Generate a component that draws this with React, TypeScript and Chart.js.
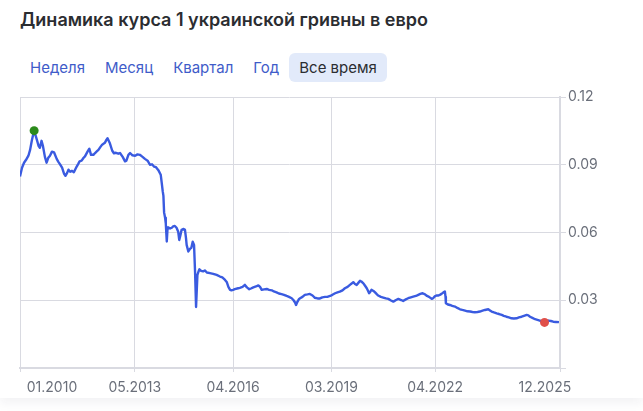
import React, { useEffect, useRef } from 'react';
import { Chart, registerables } from 'chart.js';

Chart.register(...registerables);

// Курс 1 UAH в EUR (дата в долях года)
const dates = [
  2009.92, 2009.98, 2010.04, 2010.10, 2010.17, 2010.22, 2010.27, 2010.31, 2010.34, 2010.42,
  2010.47, 2010.51, 2010.56, 2010.60, 2010.66, 2010.71, 2010.76, 2010.81, 2010.87, 2010.93,
  2011.01, 2011.06, 2011.11, 2011.17, 2011.23, 2011.27, 2011.32, 2011.36, 2011.41, 2011.46,
  2011.52, 2011.60, 2011.65, 2011.69, 2011.75, 2011.81, 2011.85, 2011.93, 2011.98, 2012.03,
  2012.10, 2012.15, 2012.20, 2012.25, 2012.30, 2012.36, 2012.44, 2012.49, 2012.52, 2012.59,
  2012.66, 2012.71, 2012.77, 2012.84, 2012.89, 2012.97, 2013.04, 2013.08, 2013.14, 2013.19,
  2013.26, 2013.34, 2013.41, 2013.48, 2013.56, 2013.63, 2013.71, 2013.78, 2013.84, 2013.90,
  2013.96, 2014.03, 2014.10, 2014.13, 2014.16, 2014.18, 2014.20, 2014.23, 2014.25, 2014.28,
  2014.30, 2014.32, 2014.38, 2014.43, 2014.47, 2014.52, 2014.57, 2014.62, 2014.65, 2014.68,
  2014.72, 2014.78, 2014.82, 2014.85, 2014.87, 2014.92, 2014.97, 2015.01, 2015.05, 2015.09,
  2015.12, 2015.15, 2015.19, 2015.22, 2015.25, 2015.30, 2015.36, 2015.41, 2015.47, 2015.56,
  2015.66, 2015.76, 2015.86, 2015.93, 2016.01, 2016.06, 2016.11, 2016.16, 2016.20, 2016.25,
  2016.30, 2016.40, 2016.45, 2016.53, 2016.60, 2016.66, 2016.73, 2016.78, 2016.85, 2016.93,
  2017.00, 2017.05, 2017.10, 2017.17, 2017.25, 2017.32, 2017.40, 2017.46, 2017.54, 2017.61,
  2017.69, 2017.76, 2017.84, 2017.91, 2017.99, 2018.04, 2018.09, 2018.12, 2018.16, 2018.21,
  2018.24, 2018.31, 2018.38, 2018.46, 2018.53, 2018.61, 2018.68, 2018.76, 2018.83, 2018.90,
  2018.98, 2019.05, 2019.13, 2019.20, 2019.28, 2019.35, 2019.42, 2019.50, 2019.57, 2019.65,
  2019.72, 2019.78, 2019.82, 2019.87, 2019.92, 2019.97, 2020.02, 2020.06, 2020.12, 2020.17,
  2020.22, 2020.26, 2020.29, 2020.33, 2020.36, 2020.42, 2020.46, 2020.51, 2020.56, 2020.64,
  2020.71, 2020.79, 2020.86, 2020.94, 2021.01, 2021.09, 2021.16, 2021.24, 2021.30, 2021.38,
  2021.45, 2021.53, 2021.60, 2021.68, 2021.75, 2021.81, 2021.88, 2021.95, 2022.01, 2022.07,
  2022.15, 2022.19, 2022.24, 2022.29, 2022.35, 2022.39, 2022.44, 2022.49, 2022.54, 2022.56,
  2022.57, 2022.63, 2022.69, 2022.76, 2022.84, 2022.91, 2022.99, 2023.06, 2023.14, 2023.21,
  2023.29, 2023.36, 2023.43, 2023.51, 2023.58, 2023.66, 2023.73, 2023.83, 2023.88, 2023.93,
  2024.00, 2024.08, 2024.15, 2024.23, 2024.29, 2024.37, 2024.44, 2024.52, 2024.59, 2024.67,
  2024.74, 2024.82, 2024.89, 2024.97, 2025.02, 2025.07, 2025.14, 2025.22, 2025.29, 2025.36,
  2025.42, 2025.50, 2025.56, 2025.61, 2025.69, 2025.76, 2025.84, 2025.93,
];

const rates = [
  0.0848, 0.0887, 0.0909, 0.0922, 0.0940, 0.0966, 0.1006, 0.1033, 0.1051, 0.1011,
  0.0984, 0.0975, 0.1006, 0.0984, 0.0935, 0.0909, 0.0931, 0.0940, 0.0958, 0.0955,
  0.0926, 0.0913, 0.0902, 0.0887, 0.0860, 0.0851, 0.0864, 0.0878, 0.0869, 0.0873,
  0.0867, 0.0891, 0.0904, 0.0915, 0.0918, 0.0931, 0.0937, 0.0959, 0.0971, 0.0944,
  0.0944, 0.0952, 0.0959, 0.0966, 0.0977, 0.0989, 0.0997, 0.1011, 0.1017, 0.0995,
  0.0962, 0.0951, 0.0953, 0.0949, 0.0952, 0.0935, 0.0915, 0.0918, 0.0944, 0.0952,
  0.0942, 0.0940, 0.0946, 0.0944, 0.0935, 0.0926, 0.0918, 0.0900, 0.0902, 0.0892,
  0.0889, 0.0876, 0.0856, 0.0820, 0.0782, 0.0762, 0.0689, 0.0665, 0.0641, 0.0560,
  0.0612, 0.0623, 0.0618, 0.0621, 0.0627, 0.0629, 0.0621, 0.0603, 0.0567, 0.0585,
  0.0612, 0.0616, 0.0612, 0.0576, 0.0545, 0.0516, 0.0528, 0.0532, 0.0559, 0.0545,
  0.0426, 0.0270, 0.0412, 0.0426, 0.0437, 0.0430, 0.0428, 0.0432, 0.0423, 0.0420,
  0.0417, 0.0412, 0.0405, 0.0401, 0.0390, 0.0381, 0.0359, 0.0346, 0.0344, 0.0346,
  0.0349, 0.0353, 0.0355, 0.0359, 0.0368, 0.0357, 0.0349, 0.0352, 0.0357, 0.0361,
  0.0366, 0.0359, 0.0346, 0.0348, 0.0350, 0.0346, 0.0344, 0.0339, 0.0335, 0.0330,
  0.0327, 0.0324, 0.0319, 0.0315, 0.0309, 0.0301, 0.0290, 0.0279, 0.0293, 0.0306,
  0.0309, 0.0315, 0.0324, 0.0326, 0.0328, 0.0321, 0.0311, 0.0308, 0.0308, 0.0313,
  0.0315, 0.0315, 0.0319, 0.0324, 0.0331, 0.0335, 0.0338, 0.0344, 0.0353, 0.0359,
  0.0368, 0.0375, 0.0380, 0.0372, 0.0368, 0.0377, 0.0386, 0.0383, 0.0375, 0.0364,
  0.0353, 0.0341, 0.0331, 0.0339, 0.0346, 0.0341, 0.0336, 0.0328, 0.0321, 0.0315,
  0.0312, 0.0308, 0.0306, 0.0299, 0.0294, 0.0301, 0.0306, 0.0301, 0.0297, 0.0304,
  0.0309, 0.0313, 0.0316, 0.0319, 0.0324, 0.0328, 0.0331, 0.0326, 0.0319, 0.0315,
  0.0306, 0.0309, 0.0317, 0.0321, 0.0321, 0.0324, 0.0328, 0.0334, 0.0339, 0.0315,
  0.0287, 0.0281, 0.0279, 0.0275, 0.0272, 0.0266, 0.0260, 0.0257, 0.0254, 0.0251,
  0.0250, 0.0248, 0.0247, 0.0248, 0.0250, 0.0254, 0.0257, 0.0260, 0.0255, 0.0250,
  0.0246, 0.0242, 0.0239, 0.0235, 0.0231, 0.0227, 0.0224, 0.0220, 0.0219, 0.0220,
  0.0224, 0.0227, 0.0231, 0.0235, 0.0233, 0.0227, 0.0222, 0.0216, 0.0213, 0.0210,
  0.0206, 0.0202, 0.0206, 0.0210, 0.0208, 0.0205, 0.0204, 0.0203,
];

// Подписи оси дат и места, где они стоят
const tickLabels = ['01.2010', '05.2013', '04.2016', '03.2019', '04.2022', '12.2025'];
const tickLabelAt = [2010.87, 2013.33, 2016.25, 2019.17, 2022.25, 2025.51];
// Вертикальные линии сетки внутри диапазона
const gridAt = [2013.33, 2016.25, 2019.17, 2022.25];
const xMin = 2009.92;
const xMax = 2025.96;

const yTicks = [0, 0.03, 0.06, 0.09, 0.12];

const periods = ['Неделя', 'Месяц', 'Квартал', 'Год', 'Все время'];
const activePeriod = 'Все время';

const GRID = '#d9dae1';
const LABEL = '#6a6f7a';
const FONT = 'Inter, "Noto Sans", sans-serif';

const near = (a: number, b: number) => Math.abs(a - b) < 1e-6;

function RateChart() {
  const ref = useRef<HTMLCanvasElement | null>(null);

  useEffect(() => {
    if (!ref.current) return;
    const points = dates.map((d, i) => ({ x: d, y: rates[i] }));
    let hi = 0;
    let lo = 0;
    rates.forEach((r, i) => {
      if (r > rates[hi]) hi = i;
      if (r < rates[lo]) lo = i;
    });
    const isGrid = (v: number | undefined) =>
      v !== undefined && (near(v, xMin) || near(v, xMax) || gridAt.some((g) => near(g, v)));
    const xTickValues = [xMin, ...tickLabelAt, ...gridAt, xMax]
      .filter((v, i, arr) => arr.findIndex((w) => near(w, v)) === i)
      .sort((a, b) => a - b);

    const chart = new Chart(ref.current, {
      type: 'line',
      data: {
        datasets: [
          {
            data: [points[hi]],
            showLine: false,
            pointRadius: 4.5,
            pointBackgroundColor: '#2b8a1b',
            pointBorderWidth: 0,
            order: 0,
          },
          {
            data: [points[lo]],
            showLine: false,
            pointRadius: 4.5,
            pointBackgroundColor: '#e0504a',
            pointBorderWidth: 0,
            order: 0,
          },
          {
            data: points,
            borderColor: '#3a5be0',
            borderWidth: 2.4,
            pointRadius: 0,
            tension: 0,
            borderJoinStyle: 'round',
            order: 1,
          },
        ],
      },
      options: {
        animation: false,
        responsive: false,
        events: [],
        layout: { padding: { left: 20, top: 17, right: 0, bottom: 0 } },
        plugins: { legend: { display: false }, tooltip: { enabled: false } },
        scales: {
          x: {
            type: 'linear',
            min: xMin,
            max: xMax,
            afterBuildTicks: (scale: any) => {
              scale.ticks = xTickValues.map((v) => ({ value: v }));
            },
            afterFit: (scale: any) => {
              scale.height = 43;
            },
            grid: {
              color: (ctx: any) => (isGrid(ctx.tick?.value) ? GRID : 'rgba(0,0,0,0)'),
              tickColor: (ctx: any) => (isGrid(ctx.tick?.value) ? GRID : 'rgba(0,0,0,0)'),
              tickLength: 4,
              lineWidth: 1,
            },
            border: { color: GRID, width: 2 },
            ticks: {
              autoSkip: false,
              maxRotation: 0,
              padding: 7,
              color: LABEL,
              font: { family: FONT, size: 14 },
              callback: (v: any) => {
                const i = tickLabelAt.findIndex((t) => near(t, Number(v)));
                return i >= 0 ? tickLabels[i] : '';
              },
            },
          },
          y: {
            position: 'right',
            min: 0,
            max: 0.12,
            afterBuildTicks: (scale: any) => {
              scale.ticks = yTicks.map((v) => ({ value: v }));
            },
            afterFit: (scale: any) => {
              scale.width = 83;
            },
            grid: { color: GRID, tickColor: GRID, tickLength: 6, lineWidth: 1 },
            border: { color: GRID, width: 2 },
            ticks: {
              padding: 2,
              color: LABEL,
              font: { family: FONT, size: 14 },
              callback: (v: any) => (Number(v) === 0 ? '' : Number(v).toFixed(2)),
            },
          },
        },
      },
    });
    return () => chart.destroy();
  }, []);

  return (
    <canvas
      ref={ref}
      width={643}
      height={331}
      style={{ position: 'absolute', left: 0, top: 80, width: 643, height: 331 }}
    />
  );
}

export default function App() {
  return (
    <div
      style={{
        position: 'relative',
        width: 643,
        height: 411,
        overflow: 'hidden',
        background: '#fff',
        fontFamily: FONT,
      }}
    >
      <style>{'body{margin:0;background:#fff}'}</style>
      <div
        style={{
          position: 'absolute',
          left: 0,
          top: 0,
          width: 643,
          height: 398,
          boxShadow: '0 5px 10px rgba(30,40,70,0.06)',
          background: '#fff',
        }}
      />
      <div
        style={{
          position: 'absolute',
          left: 20,
          top: 8,
          fontSize: 18,
          lineHeight: '24px',
          fontWeight: 600,
          color: '#2b2d31',
          whiteSpace: 'nowrap',
        }}
      >
        Динамика курса 1 украинской гривны в евро
      </div>
      <div style={{ position: 'absolute', left: 20, top: 53, display: 'flex' }}>
        {periods.map((p) => {
          const active = p === activePeriod;
          return (
            <div
              key={p}
              style={{
                padding: '0 10px',
                height: 29,
                lineHeight: '29px',
                fontSize: 15,
                borderRadius: 6,
                background: active ? '#e2eafa' : 'transparent',
                color: active ? '#2b2d31' : '#3f5cc9',
                whiteSpace: 'nowrap',
              }}
            >
              {p}
            </div>
          );
        })}
      </div>
      <RateChart />
    </div>
  );
}
